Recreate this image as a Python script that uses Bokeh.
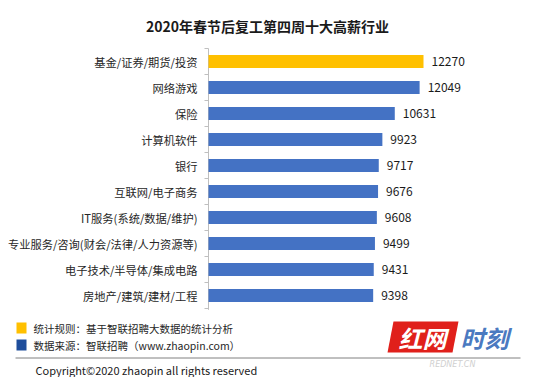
from bokeh.plotting import figure
from bokeh.models import Range1d
from bokeh.core.properties import value
from bokeh.embed import file_html
from bokeh.resources import INLINE

# ---------------- data ----------------
title_text = "2020年春节后复工第四周十大高薪行业"
industries = ["基金/证券/期货/投资", "网络游戏", "保险", "计算机软件", "银行",
              "互联网/电子商务", "IT服务(系统/数据/维护)",
              "专业服务/咨询(财会/法律/人力资源等)", "电子技术/半导体/集成电路",
              "房地产/建筑/建材/工程"]
salaries = [12270, 12049, 10631, 9923, 9717, 9676, 9608, 9499, 9431, 9398]
note_rule = "统计规则：基于智联招聘大数据的统计分析"
note_source = "数据来源：智联招聘（www.zhaopin.com）"
copyright_text = "Copyright©2020 zhaopin all rights reserved"

CJK = "Noto Sans CJK SC"
YELLOW = "#FFC000"
BLUE = "#4472C4"

# ---------------- layout constants (pixels) ----------------
W, H = 550, 377
AXIS_PX = 208            # where value 0 sits
PX_PER_UNIT = 215 / 12270
ROW = 26.0               # row pitch in px
FIRST_ROW_PX = 61.0      # centre of first row from top


def X(px):
    return (px - AXIS_PX) / PX_PER_UNIT


def Y(px):
    return (px - FIRST_ROW_PX) / ROW


p = figure(width=W, height=H, output_backend="svg", toolbar_location=None,
           x_range=Range1d(X(0), X(W)), y_range=Range1d(Y(H), Y(0)),
           min_border=0, x_axis_location=None, y_axis_location=None)
p.outline_line_color = None
p.grid.visible = False
p.background_fill_color = "white"
p.border_fill_color = "white"

idx = list(range(len(industries)))
colors = [YELLOW if i == 0 else BLUE for i in idx]

# title
p.text(x=[X(267)], y=[Y(25)], text=[title_text], text_align="center",
       text_baseline="middle", text_font=value(CJK), text_font_size="14px",
       text_font_style="bold", text_color="#1a1a1a")

# axis line + boundary ticks
tick_len = 4 / PX_PER_UNIT
bounds = [i - 0.5 for i in range(len(industries) + 1)]
p.segment(x0=[0], y0=[-0.5], x1=[0], y1=[len(industries) - 0.5 + 0.05],
          line_color="#bfbfbf", line_width=1)
p.segment(x0=[-tick_len] * len(bounds), y0=bounds, x1=[0] * len(bounds), y1=bounds,
          line_color="#bfbfbf", line_width=1)

# category labels
p.text(x=[0] * len(idx), y=idx, text=industries, x_offset=-11,
       text_align="right", text_baseline="middle", text_font=value(CJK),
       text_font_size="11.25px", text_color="#262626")

# bars and values
p.hbar(y=idx, left=0, right=salaries, height=0.5, fill_color=colors, line_color=None)
p.text(x=salaries, y=idx, text=[str(v) for v in salaries], x_offset=8,
       text_baseline="middle", text_align="left", text_font=value(CJK),
       text_font_size="12px", text_color="#1a1a1a")

# ---------------- footer ----------------
p.quad(left=[X(16), X(16)], right=[X(26), X(26)], top=[Y(322), Y(339)],
       bottom=[Y(333), Y(350)], fill_color=[YELLOW, "#1F4E9C"], line_color=None)
p.text(x=[X(33), X(33)], y=[Y(327.5), Y(344.5)], text=[note_rule, note_source],
       text_baseline="middle", text_font=value(CJK), text_font_size="10.5px",
       text_color="#262626")
p.segment(x0=[X(15)], y0=[Y(357.5)], x1=[X(520)], y1=[Y(357.5)],
          line_color="#808080", line_width=1)
p.text(x=[X(35)], y=[Y(369)], text=[copyright_text], text_baseline="middle",
       text_font=value(CJK), text_font_size="11px", text_color="#1a1a1a")

# watermark logo
p.patch(x=[X(393), X(458), X(452), X(387)], y=[Y(321), Y(321), Y(352), Y(352)],
        fill_color="#E0201B", line_color=None)
p.text(x=[X(422)], y=[Y(337)], text=["红网"], text_align="center", text_baseline="middle",
       text_font=value(CJK), text_font_size="24px", text_font_style="bold italic",
       text_color="white")
p.text(x=[X(484)], y=[Y(337)], text=["时刻"], text_align="center", text_baseline="middle",
       text_font=value(CJK), text_font_size="24px", text_font_style="bold italic",
       text_color="#2a62b5", text_alpha=0.85)
p.text(x=[X(452)], y=[Y(364)], text=["REDNET.CN"], text_align="center",
       text_baseline="middle", text_font=value("DejaVu Sans"), text_font_size="8px",
       text_font_style="italic", text_color="#d0d0d0")

open("out.html", "w").write(file_html(p, INLINE))
